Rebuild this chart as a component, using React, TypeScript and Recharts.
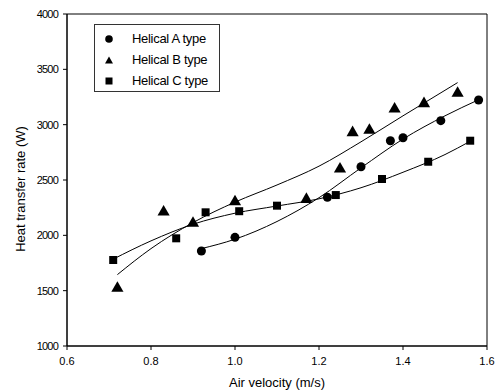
import { ComposedChart, Line, Scatter, XAxis, YAxis, ReferenceArea } from 'recharts';

// measured points
const typeA = [
  { x: 0.92, y: 1858 }, { x: 1.0, y: 1982 }, { x: 1.22, y: 2344 }, { x: 1.3, y: 2620 },
  { x: 1.37, y: 2855 }, { x: 1.4, y: 2882 }, { x: 1.49, y: 3036 }, { x: 1.58, y: 3223 },
];
const typeB = [
  { x: 0.72, y: 1521 }, { x: 0.83, y: 2211 }, { x: 0.9, y: 2109 }, { x: 1.0, y: 2304 },
  { x: 1.17, y: 2325 }, { x: 1.25, y: 2599 }, { x: 1.28, y: 2928 }, { x: 1.32, y: 2949 },
  { x: 1.38, y: 3142 }, { x: 1.45, y: 3190 }, { x: 1.53, y: 3283 },
];
const typeC = [
  { x: 0.71, y: 1777 }, { x: 0.86, y: 1973 }, { x: 0.93, y: 2208 }, { x: 1.01, y: 2218 },
  { x: 1.1, y: 2268 }, { x: 1.24, y: 2364 }, { x: 1.35, y: 2509 }, { x: 1.46, y: 2665 },
  { x: 1.56, y: 2855 },
];

// fitted curves
const fitA = [
  { x: 0.92, y: 1880 }, { x: 1.0, y: 1965 }, { x: 1.1, y: 2125 }, { x: 1.2, y: 2340 },
  { x: 1.3, y: 2610 }, { x: 1.4, y: 2870 }, { x: 1.5, y: 3080 }, { x: 1.58, y: 3225 },
];
const fitB = [
  { x: 0.72, y: 1645 }, { x: 0.8, y: 1880 }, { x: 0.9, y: 2115 }, { x: 1.0, y: 2300 },
  { x: 1.1, y: 2455 }, { x: 1.2, y: 2625 }, { x: 1.3, y: 2845 }, { x: 1.4, y: 3080 },
  { x: 1.53, y: 3380 },
];
const fitC = [
  { x: 0.71, y: 1785 }, { x: 0.8, y: 1950 }, { x: 0.9, y: 2100 }, { x: 1.0, y: 2200 },
  { x: 1.1, y: 2265 }, { x: 1.2, y: 2330 }, { x: 1.3, y: 2430 }, { x: 1.4, y: 2570 },
  { x: 1.5, y: 2730 }, { x: 1.56, y: 2850 },
];

const xTicks = [0.6, 0.8, 1.0, 1.2, 1.4, 1.6];
const yTicks = [1000, 1500, 2000, 2500, 3000, 3500, 4000];
const legendNames = ['Helical A type', 'Helical B type', 'Helical C type'];

const font = '"Liberation Sans", Arial, sans-serif';

const LegendBox = () => (
  <div
    style={{
      position: 'absolute', left: 94, top: 24, width: 126, height: 68, boxSizing: 'border-box',
      border: '1px solid #333', padding: '3px 0 0 8px', background: '#fff',
      fontFamily: font, fontSize: 13, lineHeight: '15px', letterSpacing: -0.3,
    }}
  >
    {legendNames.map((n, i) => (
      <div key={n} style={{ display: 'flex', alignItems: 'center', height: 21 }}>
        <svg width={12} height={12} style={{ marginRight: 17, flexShrink: 0 }}>
          {i === 0 && <circle cx={6} cy={6} r={3.8} fill='#000' />}
          {i === 1 && <polygon points='6,2.5 10,9.5 2,9.5' fill='#000' />}
          {i === 2 && <rect x={2.5} y={2.5} width={7} height={7} fill='#000' />}
        </svg>
        <span style={{ whiteSpace: 'nowrap' }}>{n}</span>
      </div>
    ))}
  </div>
);

const YLabel = (props: any) => {
  const vb = props.viewBox || { x: 0, y: 14, width: 67, height: 332 };
  const cx = vb.x + 20;
  const cy = vb.y + vb.height / 2 + 9;
  return (
    <text x={cx} y={cy} transform={`rotate(-90, ${cx}, ${cy})`} textAnchor='middle' dominantBaseline='central'
      fill='#000' fontSize={13} fontFamily={font}>
      Heat transfer rate (W)
    </text>
  );
};

export default function App() {
  return (
    <div style={{ position: 'absolute', left: 0, top: 0, width: 498, height: 390, background: '#fff' }}>
      <ComposedChart width={498} height={390} margin={{ top: 14, right: 11, left: 0, bottom: 0 }}>
        <XAxis
          type='number'
          dataKey='x'
          domain={[0.6, 1.6]}
          ticks={xTicks}
          tickFormatter={(v: number) => v.toFixed(1)}
          height={44}
          tickSize={4}
          tickMargin={7}
          stroke='#000'
          tick={{ fill: '#000', fontSize: 11, fontFamily: font }}
          allowDataOverflow
          label={{ value: 'Air velocity (m/s)', position: 'insideBottom', offset: 3, fill: '#000', fontSize: 13, fontFamily: font }}
        />
        <YAxis
          type='number'
          dataKey='y'
          domain={[1000, 4000]}
          ticks={yTicks}
          width={67}
          tickSize={4}
          tickMargin={5}
          stroke='#000'
          tick={{ fill: '#000', fontSize: 11, fontFamily: font, letterSpacing: -0.8 }}
          allowDataOverflow
          label={<YLabel />}
        />
        <ReferenceArea x1={0.6} x2={1.6} y1={1000} y2={4000} fill='none' stroke='#000' strokeWidth={1} />
        <Line data={fitA} dataKey='y' type='monotone' stroke='#000' strokeWidth={1} dot={false} isAnimationActive={false} />
        <Line data={fitB} dataKey='y' type='monotone' stroke='#000' strokeWidth={1} dot={false} isAnimationActive={false} />
        <Line data={fitC} dataKey='y' type='monotone' stroke='#000' strokeWidth={1} dot={false} isAnimationActive={false} />
        <Scatter name={legendNames[0]} data={typeA} shape='circle' fill='#000' isAnimationActive={false} />
        <Scatter name={legendNames[1]} data={typeB} shape='triangle' fill='#000' isAnimationActive={false} />
        <Scatter name={legendNames[2]} data={typeC} shape='square' fill='#000' isAnimationActive={false} />
      </ComposedChart>
      <LegendBox />
    </div>
  );
}
